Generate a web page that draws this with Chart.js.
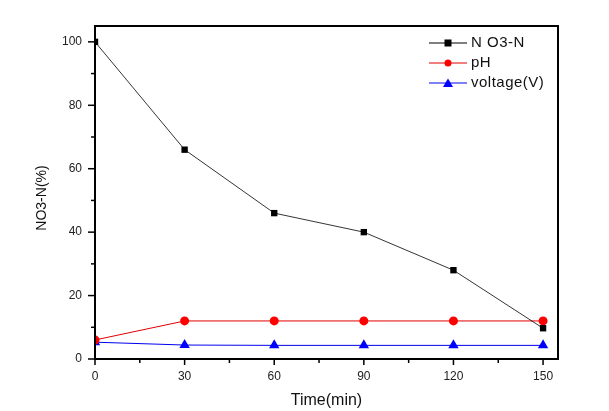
<!DOCTYPE html>
<html>
<head>
<meta charset="utf-8">
<script src="https://cdn.jsdelivr.net/npm/chart.js@4"></script>
<style>
  html, body { margin: 0; padding: 0; background: #fff; }
  #wrap { width: 609px; height: 411px; }
</style>
</head>
<body>
<div id="wrap"><canvas id="canvasChart" width="609" height="411"></canvas></div>
<script>
const times = [0, 30, 60, 90, 120, 150]
const no3n = [100, 66, 46, 40, 28, 9.7]
const ph = [6, 12, 12, 12, 12, 12]
const voltage = [5.3, 4.4, 4.3, 4.3, 4.3, 4.3]
const xTicks = [0, 30, 60, 90, 120, 150]
const yTicks = [0, 20, 40, 60, 80, 100]

const FONT = '"Liberation Sans", Arial, sans-serif'
const toXY = (vals) => vals.map((v, i) => ({ x: times[i], y: v }))

// frame, origin-style ticks, titles and legend drawn by hand
const framePlugin = {
  id: 'frame',
  afterDraw(chart) {
    const { ctx, chartArea: a, scales } = chart
    ctx.save()
    ctx.strokeStyle = '#000'
    ctx.lineWidth = 2
    ctx.strokeRect(a.left, a.top, a.right - a.left, a.bottom - a.top)
    ctx.lineWidth = 1.5
    for (let v = 0; v <= 150; v += 15) {
      const px = scales.x.getPixelForValue(v)
      const len = v % 30 === 0 ? 6 : 4
      ctx.beginPath()
      ctx.moveTo(px, a.bottom)
      ctx.lineTo(px, a.bottom + len)
      ctx.stroke()
    }
    for (let v = 0; v <= 100; v += 10) {
      const py = scales.y.getPixelForValue(v)
      const len = v % 20 === 0 ? 7 : 4
      ctx.beginPath()
      ctx.moveTo(a.left, py)
      ctx.lineTo(a.left - len, py)
      ctx.stroke()
    }

    // axis titles
    ctx.fillStyle = '#111'
    ctx.textAlign = 'center'
    ctx.textBaseline = 'middle'
    ctx.font = `16px ${FONT}`
    ctx.fillText('Time(min)', (a.left + a.right) / 2, 401)
    ctx.save()
    ctx.translate(42.5, 198)
    ctx.rotate(-Math.PI / 2)
    ctx.font = `14px ${FONT}`
    ctx.fillText('NO3-N(%)', 0, 0)
    ctx.restore()

    // legend
    ctx.textAlign = 'left'
    ctx.font = `15px ${FONT}`
    ctx.letterSpacing = '0.5px'
    chart.data.datasets.forEach((ds, i) => {
      const y = 43 + i * 20
      ctx.strokeStyle = ds.borderColor
      ctx.lineWidth = 1
      ctx.beginPath()
      ctx.moveTo(429, y)
      ctx.lineTo(467, y)
      ctx.stroke()
      ctx.fillStyle = ds.pointBackgroundColor
      const cx = 448
      if (ds.pointStyle === 'rect') {
        ctx.fillRect(cx - 3.5, y - 3.5, 7, 7)
      } else if (ds.pointStyle === 'circle') {
        ctx.beginPath()
        ctx.arc(cx, y, 3.5, 0, Math.PI * 2)
        ctx.fill()
      } else {
        ctx.beginPath()
        ctx.moveTo(cx, y - 4.5)
        ctx.lineTo(cx + 5, y + 4)
        ctx.lineTo(cx - 5, y + 4)
        ctx.closePath()
        ctx.fill()
      }
      ctx.fillStyle = '#111'
      ctx.fillText(ds.label, 471, y)
    })
    ctx.restore()
  },
}

new Chart(document.getElementById('canvasChart'), {
  type: 'line',
  data: {
    datasets: [
      {
        label: 'N O3-N',
        data: toXY(no3n),
        borderColor: '#000',
        borderWidth: 0.8,
        pointStyle: 'rect',
        pointRadius: 4.5,
        pointBackgroundColor: '#000',
        pointBorderWidth: 0,
      },
      {
        label: 'pH',
        data: toXY(ph),
        borderColor: '#e00000',
        borderWidth: 1,
        pointStyle: 'circle',
        pointRadius: 4.5,
        pointBackgroundColor: '#ff0000',
        pointBorderWidth: 0,
      },
      {
        label: 'voltage(V)',
        data: toXY(voltage),
        borderColor: '#0000ee',
        borderWidth: 1,
        pointStyle: 'triangle',
        pointRadius: 6,
        pointBackgroundColor: '#0000ff',
        pointBorderWidth: 0,
      },
    ],
  },
  options: {
    responsive: false,
    animation: false,
    layout: { padding: { left: 0, top: 26, right: 51, bottom: 0 } },
    plugins: { legend: { display: false }, tooltip: { enabled: false } },
    scales: {
      x: {
        type: 'linear',
        min: 0,
        max: 155,
        afterBuildTicks: (s) => { s.ticks = xTicks.map((v) => ({ value: v })) },
        afterFit: (s) => { s.height = 52 },
        grid: { display: false, drawTicks: false },
        border: { display: false },
        ticks: {
          padding: 10,
          color: '#222',
          font: { family: FONT, size: 12 },
        },
      },
      y: {
        min: 0,
        max: 105,
        afterBuildTicks: (s) => { s.ticks = yTicks.map((v) => ({ value: v })) },
        afterFit: (s) => { s.width = 95 },
        grid: { display: false, drawTicks: false },
        border: { display: false },
        ticks: {
          padding: 13,
          color: '#222',
          font: { family: FONT, size: 12 },
        },
      },
    },
  },
  plugins: [framePlugin],
})
</script>
</body>
</html>
